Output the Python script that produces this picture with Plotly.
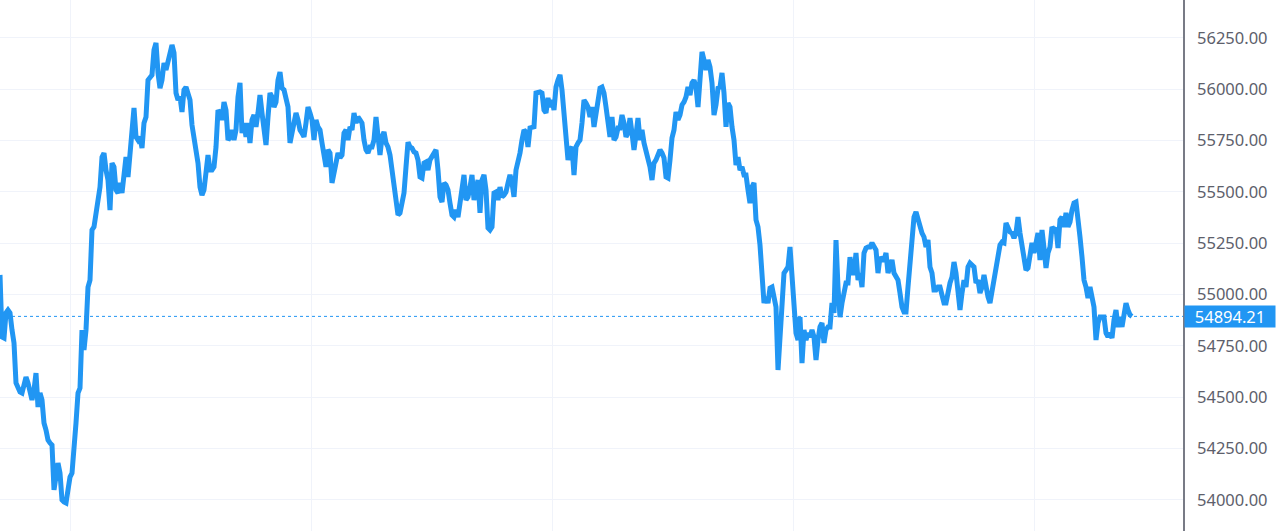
import plotly.graph_objects as go

# Price series (one sample per step)
prices_1 = [55096, 54794, 54789, 54911, 54925, 54911, 54828, 54765, 54570, 54545,
            54526, 54521, 54570, 54599, 54570, 54521, 54487, 54536, 54618, 54453,
            54521, 54487, 54375, 54341, 54292, 54278, 54268, 54049, 54112, 54180,
            54131, 54000, 53990, 53985, 54049, 54112, 54131, 54229, 54375, 54521,
            54545, 54828, 54730, 54828, 55037, 55071, 55315, 55330, 55398, 55446,
            55524, 55670, 55690, 55607, 55558, 55412, 55641, 55622, 55510, 55495,
            55544, 55495, 55573, 55670, 55573, 55670, 55787, 55909, 55768, 55753,
            55768, 55714, 55836, 55865, 56045, 56060, 56070, 56192, 56226, 56080,
            56006, 56045, 56128, 56094, 56128, 56177, 56216, 56177, 55982, 55948,
            55963, 55890, 55997, 56011, 55982, 55948, 55826, 55768, 55719, 55641,
            55524]
prices_2 = [55485, 55510, 55607, 55680, 55607, 55607, 55622, 55719, 55899, 55885,
            55851, 55938, 55899, 55753, 55768, 55802, 55753, 55802, 55963, 56031,
            55787, 55836, 55768, 55836, 55739, 55851, 55875, 55817, 55885, 55972,
            55885, 55802, 55729, 55865, 55982, 55963, 55914, 55938, 56045, 56084,
            56006, 55997, 55963, 55914, 55739, 55787, 55817, 55885, 55851, 55802,
            55787, 55768, 55836, 55914, 55885, 55851, 55753, 55851, 55817, 55802,
            55739, 55656, 55622, 55705, 55690, 55544, 55592, 55670, 55690, 55666,
            55680, 55787, 55802, 55753, 55817, 55802, 55885, 55836, 55865, 55851,
            55836, 55753, 55705, 55690, 55719, 55719, 55753, 55865, 55753, 55680,
            55768, 55792, 55739, 55719, 55680]
prices_3 = [55607, 55544, 55427, 55388, 55398, 55446, 55495, 55622, 55743, 55719,
            55714, 55695, 55690, 55656, 55573, 55568, 55641, 55646, 55607, 55656,
            55670, 55690, 55705, 55607, 55476, 55451, 55544, 55534, 55510, 55446,
            55388, 55378, 55412, 55378, 55461, 55524, 55583, 55461, 55476, 55524,
            55583, 55461, 55524, 55558, 55398, 55558, 55583, 55510, 55325, 55315,
            55330, 55495, 55500, 55461, 55524, 55476, 55485, 55500, 55544, 55583,
            55544, 55476, 55607, 55641, 55690, 55753, 55802, 55792, 55719, 55812,
            55812, 55817, 55982, 55987, 55987, 55982, 55899, 55885, 55958, 55914,
            55948, 55899, 56011, 56045, 56070, 55997, 55885, 55787, 55656, 55705,
            55719, 55583, 55719, 55739, 55753]
prices_4 = [55836, 55948, 55933, 55914, 55865, 55914, 55817, 55885, 55963, 56006,
            56011, 55982, 55914, 55817, 55768, 55865, 55753, 55768, 55812, 55812,
            55875, 55836, 55768, 55787, 55860, 55787, 55705, 55778, 55860, 55753,
            55802, 55739, 55705, 55670, 55622, 55558, 55641, 55656, 55690, 55705,
            55690, 55666, 55573, 55568, 55656, 55763, 55802, 55890, 55851, 55875,
            55924, 55938, 55963, 56011, 55972, 56031, 56045, 56011, 55914, 56031,
            56182, 56143, 56094, 56143, 56109, 56031, 55875, 55924, 56006, 56011,
            56080, 55982, 55817, 55933, 55914, 55817, 55753, 55631, 55670, 55607,
            55622, 55583, 55583, 55510, 55446, 55524, 55544, 55364, 55330, 55242]
prices_5 = [55071, 54959, 54989, 54959, 55032, 55037, 54989, 54940, 54633, 54779,
            54940, 55105, 55120, 55135, 55232, 55105, 54989, 54813, 54779, 54891,
            54667, 54828, 54779, 54813, 54794, 54828, 54794, 54682, 54779, 54843,
            54862, 54765, 54828, 54843, 54843, 54959, 54911, 55266, 55037, 54891,
            54959, 55008, 55057, 55057, 55183, 55105, 55105, 55203, 55071, 55105,
            55037, 55203, 55227, 55232, 55232, 55252, 55232, 55218, 55105, 55183,
            55169, 55169, 55203, 55105, 55135, 55169, 55105, 55086, 55071, 55008,
            54940, 54916, 54916, 55037, 55169, 55266, 55378, 55403, 55364, 55315,
            55300, 55281, 55232, 55266, 55135, 55105, 55023, 55023, 55037, 55037,
            54989, 54959, 54959, 55023, 55057, 55086, 55159, 55105, 55023]
prices_6 = [54925, 55008, 55071, 55037, 55135, 55154, 55144, 55135, 55057, 55071,
            55008, 55037, 55096, 55023, 54989, 54959, 55023, 55057, 55154, 55218,
            55242, 55256, 55252, 55349, 55325, 55305, 55300, 55276, 55300, 55378,
            55300, 55232, 55154, 55120, 55130, 55183, 55252, 55203, 55266, 55300,
            55169, 55315, 55227, 55130, 55203, 55232, 55330, 55315, 55325, 55227,
            55364, 55378, 55330, 55398, 55330, 55354, 55412, 55446, 55451, 55378,
            55281, 55183, 55071, 55037, 54984, 55037, 54974, 54940, 54779, 54862,
            54891, 54891, 54891, 54813, 54794, 54813, 54789, 54877, 54925, 54843,
            54891, 54843, 54911, 54959, 54925, 54901, 54894.21]

prices = prices_1 + prices_2 + prices_3 + prices_4 + prices_5 + prices_6
steps = list(range(len(prices)))

y_ticks = [54000, 54250, 54500, 54750, 55000, 55250, 55500, 55750, 56000, 56250]
last_price = prices[-1]

LINE = "#2196f3"
GRID = "#f0f3fa"
TEXT = "#5d606b"

fig = go.Figure()
fig.add_trace(go.Scatter(
    x=steps, y=prices, mode="lines",
    line=dict(color=LINE, width=5, shape="linear"),
    hoverinfo="skip", showlegend=False,
))

fig.add_shape(type="line", xref="paper", x0=0, x1=1, yref="y",
              y0=last_price, y1=last_price,
              line=dict(color=LINE, width=1, dash="dot"), layer="below")

fig.add_annotation(
    xref="paper", x=1.0, xanchor="left", yref="y", y=last_price,
    text=f"{last_price:.2f}", showarrow=False,
    font=dict(family="Noto Sans", size=16.5, color="white"),
    bgcolor=LINE, borderpad=0, width=90, height=21, align="center", xshift=1,
)

fig.update_layout(
    width=1280, height=531,
    margin=dict(l=0, r=97, t=0, b=0),
    paper_bgcolor="white", plot_bgcolor="white",
    font=dict(family="Noto Sans", size=16.5, color=TEXT),
    xaxis=dict(
        range=[0, 591.5],
        tick0=35, dtick=120.5, tickmode="linear",
        showticklabels=False, ticks="",
        showgrid=True, gridcolor=GRID, gridwidth=1,
        zeroline=False, showline=False,
    ),
    yaxis=dict(
        side="right", range=[53849, 56435],
        tickmode="array", tickvals=y_ticks,
        ticktext=[f"{v:.2f}" for v in y_ticks],
        showgrid=True, gridcolor=GRID, gridwidth=1,
        zeroline=False, showline=True, linecolor="#787b86", linewidth=1.5,
        ticks="", ticklabelstandoff=9,
        tickfont=dict(family="Noto Sans", size=16.5, color=TEXT),
    ),
)

fig.write_html(
    "out.html",
    config={"displayModeBar": False},
    post_script="document.body.style.margin='0';document.body.style.overflow='hidden';",
)
